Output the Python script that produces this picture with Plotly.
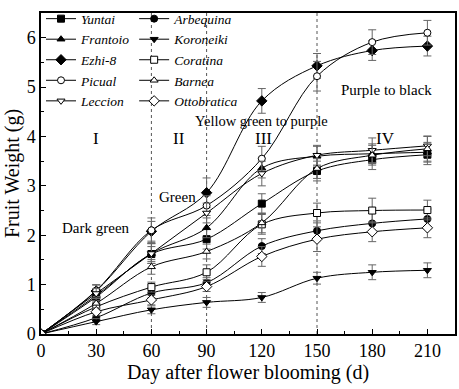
import plotly.graph_objects as go

days = [0, 30, 60, 90, 120, 150, 180, 210]

yuntai = [0, 0.75, 1.62, 1.92, 2.64, 3.30, 3.53, 3.63]
arbequina = [0, 0.33, 0.83, 1.04, 1.78, 2.09, 2.24, 2.33]
frantoio = [0, 0.78, 1.63, 2.15, 3.36, 3.60, 3.65, 3.68]
koroneiki = [0, 0.25, 0.49, 0.64, 0.74, 1.13, 1.25, 1.29]
ezhi8 = [0, 0.87, 2.08, 2.86, 4.72, 5.43, 5.74, 5.83]
coratina = [0, 0.55, 0.95, 1.25, 2.22, 2.45, 2.50, 2.51]
picual = [0, 0.88, 2.10, 2.60, 3.55, 5.22, 5.91, 6.10]
barnea = [0, 0.62, 1.36, 1.67, 2.25, 3.35, 3.62, 3.75]
leccion = [0, 0.82, 1.63, 2.45, 3.25, 3.62, 3.72, 3.81]
ottobratica = [0, 0.45, 0.69, 0.96, 1.57, 1.92, 2.07, 2.15]

err_yuntai = [0, 0.10, 0.15, 0.20, 0.20, 0.20, 0.20, 0.20]
err_arbequina = [0, 0.08, 0.10, 0.10, 0.15, 0.20, 0.20, 0.20]
err_frantoio = [0, 0.10, 0.20, 0.20, 0.20, 0.20, 0.20, 0.20]
err_koroneiki = [0, 0.06, 0.08, 0.10, 0.10, 0.12, 0.15, 0.15]
err_ezhi8 = [0, 0.12, 0.20, 0.30, 0.25, 0.25, 0.20, 0.20]
err_coratina = [0, 0.08, 0.10, 0.15, 0.20, 0.20, 0.25, 0.20]
err_picual = [0, 0.12, 0.25, 0.20, 0.25, 0.30, 0.25, 0.25]
err_barnea = [0, 0.10, 0.15, 0.15, 0.20, 0.20, 0.20, 0.25]
err_leccion = [0, 0.10, 0.20, 0.20, 0.25, 0.20, 0.25, 0.20]
err_ottobratica = [0, 0.08, 0.10, 0.10, 0.20, 0.25, 0.20, 0.20]

stage_days = [60, 90, 150]

FONT = "Liberation Serif, Times New Roman, serif"

series = [
    ("Yuntai", yuntai, err_yuntai, "square", "black", "legend"),
    ("Frantoio", frantoio, err_frantoio, "triangle-up", "black", "legend"),
    ("Ezhi-8", ezhi8, err_ezhi8, "diamond", "black", "legend"),
    ("Picual", picual, err_picual, "circle", "white", "legend"),
    ("Leccion", leccion, err_leccion, "triangle-down", "white", "legend"),
    ("Arbequina", arbequina, err_arbequina, "circle", "black", "legend2"),
    ("Koroneiki", koroneiki, err_koroneiki, "triangle-down", "black", "legend2"),
    ("Coratina", coratina, err_coratina, "square", "white", "legend2"),
    ("Barnea", barnea, err_barnea, "triangle-up", "white", "legend2"),
    ("Ottobratica", ottobratica, err_ottobratica, "diamond", "white", "legend2"),
]

fig = go.Figure()

for d in stage_days:
    fig.add_shape(type="line", x0=d, x1=d, y0=0, y1=1, xref="x", yref="paper",
                  line=dict(color="#555555", width=1, dash="dot"), layer="below")

for name, vals, err, sym, fill, leg in series:
    fig.add_trace(go.Scatter(
        x=days, y=vals, name=name, mode="lines+markers", legend=leg,
        line=dict(color="black", width=1, shape="spline", smoothing=1),
        marker=dict(symbol=sym, size=7 if sym != "diamond" else 8, color=fill,
                    line=dict(color="black", width=1)),
        error_y=dict(type="data", array=err, visible=True, color="#666666",
                     thickness=1, width=4),
    ))

annots = [
    (30, 3.96, "I", 17), (75, 3.96, "II", 17), (121, 3.96, "III", 17), (187, 3.96, "IV", 17),
    (30, 2.15, "Dark green", 15), (74, 2.78, "Green", 15),
    (120, 4.32, "Yellow green to purple", 14.5), (188, 4.94, "Purple to black", 15),
]
for x, y, t, s in annots:
    fig.add_annotation(x=x, y=y, text=t, showarrow=False,
                       font=dict(family=FONT, size=s, color="black"))

axis_common = dict(showline=True, linecolor="black", linewidth=1.5, mirror=True,
                   ticks="inside", ticklen=5, tickcolor="black", showgrid=False,
                   zeroline=False, automargin=False,
                   tickfont=dict(family=FONT, size=18, color="black"))

fig.update_xaxes(range=[0, 225], tickvals=[0, 30, 60, 90, 120, 150, 180, 210],
                 minor=dict(ticks="inside", ticklen=3, dtick=15, tick0=0, tickcolor="black"),
                 title=dict(text="Day after flower blooming (d)", font=dict(family=FONT, size=20, color="black"), standoff=2),
                 **axis_common)
fig.update_yaxes(range=[0, 6.5], dtick=1,
                 minor=dict(ticks="inside", ticklen=3, dtick=0.5, tick0=0, tickcolor="black"),
                 title=dict(text="Fruit Weight (g)", font=dict(family=FONT, size=20, color="black"), standoff=2),
                 **axis_common)

legend_common = dict(font=dict(family=FONT, size=13.5, color="black", style="italic"),
                     bgcolor="rgba(0,0,0,0)", yanchor="top", xanchor="left",
                     tracegroupgap=0, itemwidth=30)
fig.update_layout(
    width=459, height=389,
    margin=dict(l=41, r=4, t=3, b=55),
    plot_bgcolor="white", paper_bgcolor="white",
    legend=dict(x=0.0, y=1.03, **legend_common),
    legend2=dict(x=0.225, y=1.03, **legend_common),
    showlegend=True,
)

fig.write_html("out.html", config={"displayModeBar": False},
               post_script="document.body.style.margin='0';document.body.style.overflow='hidden';")
